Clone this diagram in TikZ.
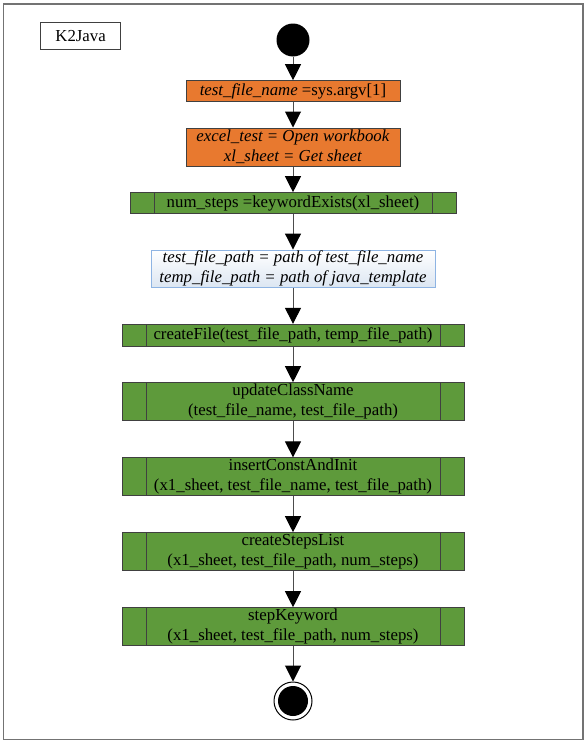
\documentclass[tikz,border=0pt]{standalone}
\usepackage{fontspec}
\setmainfont{Liberation Serif}
\usetikzlibrary{arrows.meta,positioning}

\definecolor{actorange}{HTML}{E8792F}
\definecolor{procgreen}{HTML}{5E9A3B}
\definecolor{noteblue}{HTML}{8EB4E3}
\definecolor{noteshade}{HTML}{DCE6F2}

\begin{document}
\begin{tikzpicture}
		[x=1pt,y=-1pt,
		every node/.style={font=\fontsize{16.8}{20}\selectfont,inner sep=0pt,align=center},
		title node/.style={shape=rectangle,draw=black!75,line width=1pt,fill=white,minimum width=80pt,minimum height=26.6pt},
		start node/.style={shape=circle,fill=black,minimum size=33pt},
		final node/.style={shape=circle,draw=black,line width=1pt,fill=white,minimum size=38pt,
			path picture={\fill[black] (path picture bounding box.center) circle (15pt);}},
		act node/.style={shape=rectangle,draw=black!75,line width=1pt,fill=actorange,minimum width=214pt},
		note node/.style={shape=rectangle,draw=noteblue,line width=1pt,top color=white,bottom color=noteshade,minimum width=284pt,minimum height=37.3pt},
		proc node/.style={shape=rectangle,draw=black!75,line width=1pt,fill=procgreen,minimum height=38pt,
			path picture={
				\draw[black!75,line width=1pt] ([xshift=24pt]path picture bounding box.north west) -- ([xshift=24pt]path picture bounding box.south west);
				\draw[black!75,line width=1pt] ([xshift=-24pt]path picture bounding box.north east) -- ([xshift=-24pt]path picture bounding box.south east);}},
		flow/.style={draw=black!70,line width=1pt,-{Triangle[length=16pt,width=16pt,color=black]}}
		]
		
		\useasboundingbox (0,0) rectangle (586,744);
		\draw[black!55,line width=1.2pt] (3.5,4) rectangle (583,739.5);
		
		\node [title node] (0) at (80.6,36) {K2Java};
		\node [start node] (1) at (293,40) {};
		\node [act node,minimum height=20.6pt] (2) at (293,91) {\textit{test\_file\_name} =sys.argv[1]};
		\node [act node,minimum height=38pt] (3) at (293,147) {\textit{excel\_test = Open workbook}\\\textit{xl\_sheet = Get sheet}};
		\node [proc node,minimum width=326pt,minimum height=20.6pt] (4) at (293,203) {num\_steps =keywordExists(xl\_sheet)};
		\node [note node] (5) at (293,268.7) {\textit{test\_file\_path = path of test\_file\_name}\\\textit{temp\_file\_path = path of java\_template}};
		\node [proc node,minimum width=342pt,minimum height=21.7pt] (6) at (293,335.2) {createFile(test\_file\_path, temp\_file\_path)};
		\node [proc node,minimum width=342pt] (7) at (293,401.7) {updateClassName\\(test\_file\_name, test\_file\_path)};
		\node [proc node,minimum width=342pt] (8) at (293,476.9) {insertConstAndInit\\(x1\_sheet, test\_file\_name, test\_file\_path)};
		\node [proc node,minimum width=342pt] (9) at (293,551.7) {createStepsList\\(x1\_sheet, test\_file\_path, num\_steps)};
		\node [proc node,minimum width=342pt] (10) at (293,626.7) {stepKeyword\\(x1\_sheet, test\_file\_path, num\_steps)};
		\node [final node] (11) at (293,701) {};
		
		\path[flow]
		(1) edge (2)
		(2) edge (3)
		(3) edge (4)
		(4) edge (5)
		(5) edge (6)
		(6) edge (7)
		(7) edge (8)
		(8) edge (9)
		(9) edge (10)
		(10) edge (11)
		;
		
\end{tikzpicture}
\end{document}
